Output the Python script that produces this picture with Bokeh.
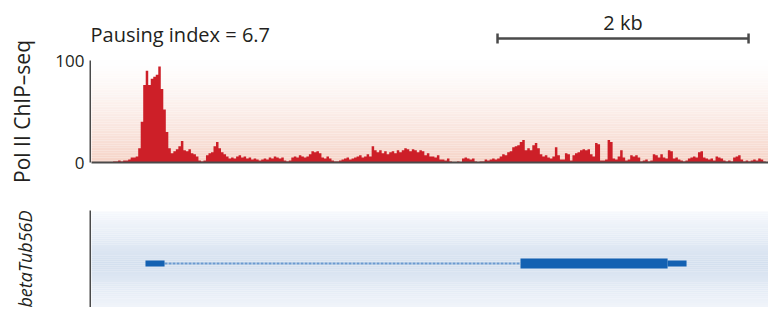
import numpy as np
from bokeh.plotting import figure
from bokeh.layouts import column, row
from bokeh.models import Range1d, FixedTicker
from bokeh.core.properties import value
from bokeh.embed import file_html
from bokeh.resources import INLINE

# ---------------- data ----------------
bin_bp = 20  # ChIP-seq bin size (bp)
signal = [
    0, 0, 0, 0, 0, 0, 0, 0, 0, 1,
    1, 2, 1, 2, 2, 3, 5, 5, 6, 14,
    40, 76, 90, 76, 82, 84, 86, 94, 72, 52,
    30, 14, 9, 11, 13, 16, 21, 12, 11, 13,
    9, 8, 6, 2, 1, 2, 7, 9, 10, 16,
    20, 14, 10, 8, 6, 4, 5, 4, 6, 7,
    5, 6, 4, 5, 3, 4, 3, 2, 3, 4,
    3, 5, 4, 6, 5, 4, 5, 2, 1, 2,
    5, 6, 5, 7, 6, 5, 6, 8, 11, 10,
    11, 9, 5, 4, 6, 4, 2, 1, 1, 2,
    3, 4, 5, 3, 4, 5, 6, 7, 5, 6,
    8, 6, 16, 12, 10, 12, 9, 11, 8, 10,
    11, 9, 12, 10, 12, 14, 13, 11, 13, 12,
    10, 12, 11, 7, 9, 6, 6, 5, 7, 3,
    3, 2, 4, 1, 0, 0, 1, 0, 4, 5,
    4, 3, 4, 1, 0, 1, 1, 3, 2, 3,
    4, 3, 4, 6, 8, 7, 10, 11, 15, 16,
    17, 20, 22, 12, 14, 12, 17, 19, 14, 8,
    6, 7, 5, 4, 6, 15, 7, 3, 3, 9,
    8, 2, 7, 9, 10, 12, 13, 12, 13, 8,
    6, 19, 18, 2, 2, 3, 22, 20, 4, 3,
    6, 12, 5, 2, 3, 7, 6, 7, 5, 1,
    2, 3, 1, 2, 8, 7, 5, 8, 5, 4,
    12, 11, 4, 5, 3, 2, 1, 2, 4, 5,
    6, 5, 10, 11, 5, 4, 3, 4, 2, 6,
    5, 4, 2, 1, 2, 1, 5, 6, 7, 3,
    1, 2, 1, 2, 3, 2, 4, 3, 1, 0,
    1, 1, 2, 3,
]
exon_start_bp = [438, 3426, 4598]
exon_end_bp = [590, 4598, 4749]
exon_kind = ["UTR", "CDS", "UTR"]
gene_name = "betaTub56D"
track_label = "Pol II ChIP\u2013seq"
pausing_index = 6.7
scale_bar_bp = 2000
scale_bar_start_bp = 3243
y_ticks = [0, 100]
view_end_bp = 5402

# ---------------- styles ----------------
FONT = "Open Sans"
TXT = "#231F20"
AX = "#4a4a4a"
RED = "#CD1F28"
BLUE = "#1461B2"
W = 768
H = 307
STRIP_W = 91        # axis strip: axis line sits at x = 90
LEFT = 90
TOP_H = 190
BOT_H = H - TOP_H
MAIN_W = W - STRIP_W
px_per_bp = (W - LEFT) / view_end_bp
x0_bp = (STRIP_W - LEFT) / px_per_bp


def strip(height, top_border, bottom_border, yr):
    s = figure(width=STRIP_W, height=height, x_range=Range1d(0, 1), y_range=yr,
               output_backend="svg", toolbar_location=None, x_axis_location=None,
               min_border_left=LEFT, min_border_right=0, min_border_top=top_border,
               min_border_bottom=bottom_border, outline_line_color=None, frame_align=False)
    s.grid.visible = False
    a = s.yaxis[0]
    a.major_tick_out = 0
    a.major_tick_in = 0
    a.minor_tick_out = 0
    a.minor_tick_in = 0
    a.axis_line_width = 2
    a.axis_line_color = AX
    a.axis_label_text_color = TXT
    a.axis_label_text_font = FONT
    return s, a


# ---------------- top strip: y axis of the ChIP track ----------------
st, ya = strip(TOP_H, 60, 28, Range1d(0, 100))
ya.ticker = FixedTicker(ticks=y_ticks)
ya.major_label_text_font = FONT
ya.major_label_text_font_size = "17px"
ya.major_label_text_color = TXT
ya.major_label_standoff = 6
ya.axis_label = track_label
ya.axis_label_text_font_size = "21px"
ya.axis_label_text_font_style = "normal"
ya.axis_label_standoff = 16

# ---------------- top: Pol II signal ----------------
top = figure(width=MAIN_W, height=TOP_H, x_range=Range1d(x0_bp, view_end_bp),
             y_range=Range1d(0, 158.8), output_backend="svg", toolbar_location=None,
             y_axis_location=None, min_border_left=0, min_border_right=0,
             min_border_top=0, min_border_bottom=28, outline_line_color=None,
             frame_align=False)
top.grid.visible = False

# pink vertical gradient behind the track (0..100)
n = 60
ye = np.linspace(0, 100, n + 1)
t = 1 - (ye[:-1] + ye[1:]) / 200.0
t = t ** 1.3
c0 = np.array([255, 255, 255]); c1 = np.array([246, 212, 200])
cols = ["#%02x%02x%02x" % tuple((c0 + (c1 - c0) * tt).astype(int)) for tt in t]
top.quad(left=0, right=view_end_bp, bottom=ye[:-1], top=ye[1:], fill_color=cols, line_color=None)

xs = list(np.arange(len(signal) + 1) * bin_bp)
top.varea_step(x=xs, y1=[0] * len(xs), y2=signal + [signal[-1]], step_mode="after",
               fill_color=RED)

# header: pausing index and scale bar
top.text(x=[0], y=[125.5], text=[f"Pausing index = {pausing_index}"], text_font=value(FONT),
         text_font_size="20px", text_baseline="middle", text_align="left", text_color=TXT)
sb0, sb1 = scale_bar_start_bp, scale_bar_start_bp + scale_bar_bp
top.segment(x0=[sb0], y0=[121.6], x1=[sb1], y1=[121.6], line_width=2.5, line_color=AX)
top.scatter(x=[sb0, sb1], y=[121.6, 121.6], marker="dash", angle=np.pi / 2, size=10,
            line_width=2.5, line_color=AX)
top.text(x=[(sb0 + sb1) / 2], y=[137.3], text=[f"{scale_bar_bp // 1000} kb"], text_font=value(FONT),
         text_font_size="20px", text_baseline="middle", text_align="center", text_color=TXT)

xa = top.xaxis[0]
xa.ticker = FixedTicker(ticks=[])
xa.major_label_text_font_size = "0px"
xa.major_tick_out = 0
xa.minor_tick_out = 0
xa.axis_line_width = 2
xa.axis_line_color = AX

# ---------------- bottom strip: gene name ----------------
sb, ba = strip(BOT_H, 20, 0, Range1d(0, 1))
ba.ticker = FixedTicker(ticks=[])
ba.major_label_text_font_size = "0px"
ba.axis_label = gene_name
ba.axis_label_text_font_size = "18px"
ba.axis_label_text_font_style = "italic"
ba.axis_label_standoff = 54

# ---------------- bottom: gene model ----------------
bot = figure(width=MAIN_W, height=BOT_H, x_range=top.x_range, y_range=Range1d(-44 / 53, 1.0),
             output_backend="svg", toolbar_location=None, x_axis_location=None,
             y_axis_location=None, min_border_left=0, min_border_right=0,
             min_border_top=20, min_border_bottom=0, outline_line_color=None,
             frame_align=False)
bot.grid.visible = False

m = 50
be = np.linspace(-0.98, 0.98, m + 1)
tb = 1 - np.abs((be[:-1] + be[1:]) / 2) / 0.98
b0 = np.array([247, 249, 253]); b1 = np.array([212, 224, 239])
bcols = ["#%02x%02x%02x" % tuple((b0 + (b1 - b0) * tt).astype(int)) for tt in tb]
bot.quad(left=0, right=view_end_bp, bottom=be[:-1], top=be[1:], fill_color=bcols, line_color=None)

# intron
bot.segment(x0=[exon_end_bp[0]], y0=[0], x1=[exon_start_bp[1]], y1=[0],
            line_color="#6b9ad0", line_width=2, line_dash="3 1")
# exons
for kind, h in (("UTR", 6), ("CDS", 10)):
    idx = [i for i, k in enumerate(exon_kind) if k == kind]
    cx = [(exon_start_bp[i] + exon_end_bp[i]) / 2 for i in idx]
    wd = [exon_end_bp[i] - exon_start_bp[i] for i in idx]
    bot.rect(x=cx, y=[0] * len(idx), width=wd, height=h, height_units="screen",
             fill_color=BLUE, line_color=None)

layout = column(row(st, top), row(sb, bot))
open("out.html", "w").write(file_html(layout, INLINE))
